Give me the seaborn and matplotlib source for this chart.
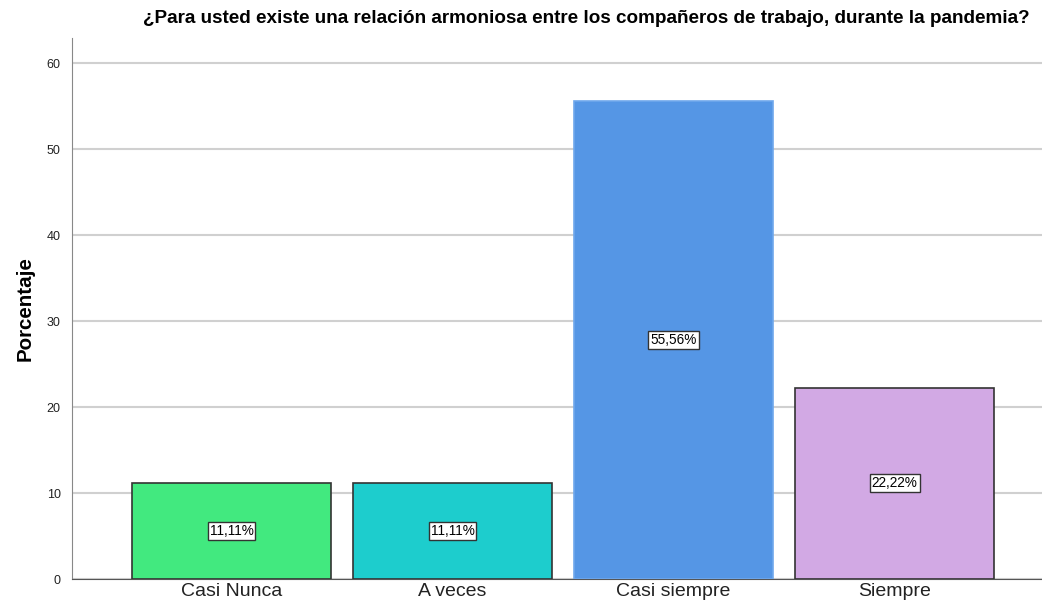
import pandas as pd
import matplotlib.pyplot as plt
import seaborn as sns

# Data
categories = ['Casi Nunca', 'A veces', 'Casi siempre', 'Siempre']
percentages = [11.11, 11.11, 55.56, 22.22]
bar_colors = ['#42E97F', '#1DCDCD', '#5596E5', '#D2A9E4']
edge_colors = ['#333333', '#333333', '#6FA8EC', '#333333']
title = '¿Para usted existe una relación armoniosa entre los compañeros de trabajo, durante la pandemia?'

df = pd.DataFrame({'categoria': categories, 'porcentaje': percentages})

sns.set_style('white')
plt.rcParams['font.family'] = ['Liberation Sans', 'DejaVu Sans']

fig = plt.figure(figsize=(10.42, 6.14), dpi=100)
ax = fig.add_axes([0.069, 0.057, 0.931, 0.881])

sns.barplot(data=df, x='categoria', y='porcentaje', hue='categoria',
            palette=bar_colors, saturation=1, width=0.9, legend=False,
            ax=ax, zorder=3)

for patch, ec in zip(ax.patches, edge_colors):
    patch.set_edgecolor(ec)
    patch.set_linewidth(1.2)

# value labels in the middle of each bar
for i, v in enumerate(percentages):
    ax.text(i, v / 2, f'{v:.2f}%'.replace('.', ','), ha='center', va='center',
            fontsize=9.8, color='black', zorder=5,
            bbox=dict(boxstyle='square,pad=0.15', fc='white', ec='#333333', lw=1))

ax.set_xlim(-0.722, 3.667)
ax.set_ylim(0, 62.9)
ax.set_yticks([0, 10, 20, 30, 40, 50, 60])
ax.yaxis.grid(True, color='#D0D0D0', lw=1.5, zorder=0)
ax.set_axisbelow(True)

for s in ['top', 'right']:
    ax.spines[s].set_visible(False)
ax.spines['left'].set_color('#888888')
ax.spines['bottom'].set_color('#555555')

ax.tick_params(axis='y', labelsize=9, length=0, pad=8, colors='#222222')
ax.tick_params(axis='x', labelsize=14, length=0, pad=3, colors='#222222')

ax.set_xlabel('')
ax.set_ylabel('Porcentaje', fontsize=14.8, fontweight='bold', labelpad=9,
              color='black')
fig.suptitle(title, x=0.5625, y=0.984, fontsize=13.6, fontweight='bold',
             color='black')

fig.savefig('out.png', dpi=100)
